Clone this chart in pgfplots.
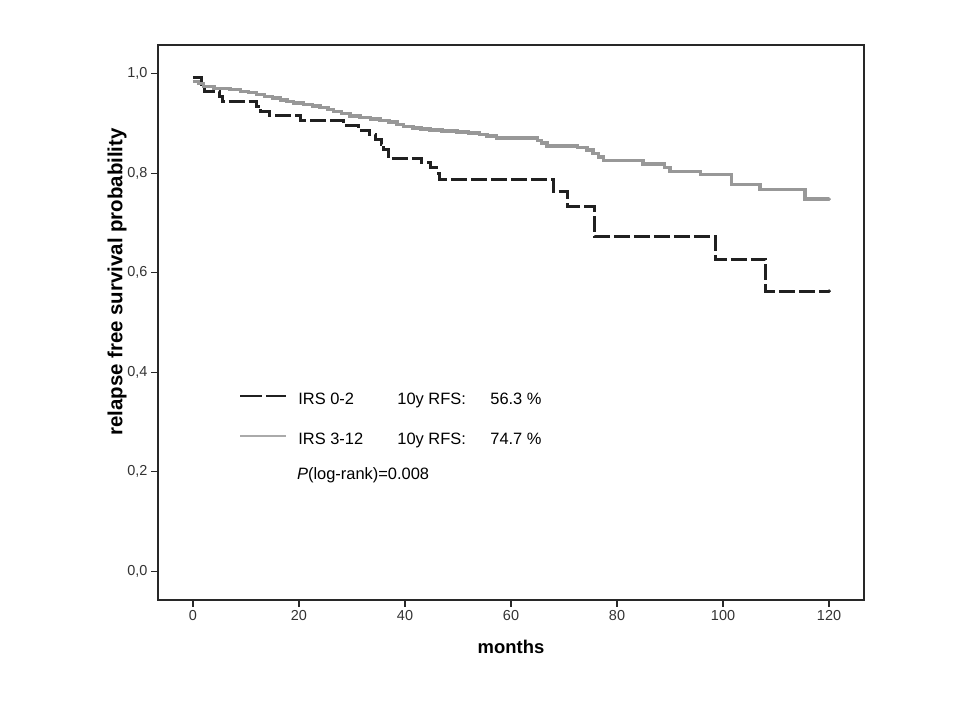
\documentclass[border=0pt]{standalone}
\usepackage{fontspec}
\setmainfont{Liberation Sans}
\usepackage{pgfplots}
\pgfplotsset{compat=1.18}
\definecolor{grayline}{RGB}{152,152,152}
\definecolor{graylegend}{RGB}{170,170,170}
\definecolor{blackline}{RGB}{32,32,32}
\definecolor{framecol}{RGB}{40,40,40}
\begin{document}
\begin{tikzpicture}[x=1bp,y=1bp]
\path[use as bounding box] (0,0) rectangle (960,720);
\begin{axis}[
  at={(158bp,120bp)}, anchor=south west,
  scale only axis, width=706bp, height=555bp,
  xmin=-6.6, xmax=126.6, ymin=-0.058, ymax=1.058,
  axis line style={line width=1.3bp, color=framecol},
  xtick={0,20,40,60,80,100,120},
  ytick={0,0.2,0.4,0.6,0.8,1.0},
  tick align=outside, tick pos=left,
  major tick length=7bp,
  tick style={line width=1.3bp, color=framecol},
  /pgf/number format/assume math mode=true,
  ticklabel style={font=\fontsize{14.5}{16}\selectfont, color=black!80},
  yticklabel style={/pgf/number format/.cd, fixed, fixed zerofill, precision=1, use comma},
  xlabel={months},
  ylabel={relapse free survival probability},
  xlabel style={at={(axis description cs:0.5,-0.0847)}, anchor=center, font=\bfseries\fontsize{18.5}{21}\selectfont},
  ylabel style={at={(axis description cs:-0.058,0.573)}, anchor=center, font=\bfseries\fontsize{20.5}{23}\selectfont},
  legend image code/.code={\draw[#1] (0bp,3bp) -- (46bp,3bp);},
  legend style={at={(axis cs:8.68,0.306)}, anchor=west, draw=none, fill=none,
    inner sep=0pt, row sep=28bp,
    font=\fontsize{16.5}{19}\selectfont,
    nodes={inner sep=0pt, text height=12bp, text depth=0bp},
    /tikz/every odd column/.append style={column sep=11bp}},
  legend cell align=left,
]
% IRS 0-2
\addplot[const plot, blackline, line width=3bp, dash pattern=on 16bp off 4bp, forget plot] coordinates {
(0,0.993) (1.6,0.978) (2.2,0.964) (5.0,0.954) (5.5,0.944)
(12.0,0.934) (12.8,0.925) (14.5,0.917) (20.3,0.907) (28.4,0.897)
(31.2,0.887) (33.3,0.877) (34.5,0.867) (35.5,0.857) (36.0,0.848)
(36.8,0.830) (43.2,0.821) (44.8,0.811) (46.0,0.800) (46.6,0.788)
(68.0,0.763) (70.6,0.734) (75.7,0.673) (98.5,0.627) (108.1,0.563)
(120.0,0.563)
};
% IRS 3-12
\addplot[const plot, grayline, line width=3.4bp, forget plot] coordinates {
(0,0.985) (1.0,0.980) (2.0,0.974) (4.0,0.971) (7.0,0.968) (9.0,0.965)
(10.5,0.962) (12.0,0.958) (13.5,0.955) (15.0,0.951) (16.5,0.947)
(17.7,0.944) (19.0,0.941) (20.8,0.938) (22.5,0.935) (24.0,0.932)
(25.5,0.928) (26.5,0.924) (28.0,0.920) (29.6,0.915) (31.5,0.912)
(33.5,0.909) (35.3,0.906) (37.0,0.903) (38.5,0.898) (39.7,0.894)
(41.5,0.891) (43.0,0.889) (44.7,0.887) (47.0,0.885) (49.8,0.883)
(52.0,0.881) (54.0,0.878) (55.5,0.875) (57.3,0.871) (65.0,0.866)
(65.8,0.861) (66.8,0.855) (72.5,0.852) (74.3,0.847) (75.5,0.840)
(76.5,0.833) (77.5,0.826) (84.9,0.819) (89.0,0.812) (90.0,0.804)
(95.7,0.797) (101.6,0.778) (107.0,0.767) (115.5,0.748) (120.0,0.748)
};
\addplot[only marks, mark=*, mark size=1.6bp, blackline, forget plot] coordinates {(120.0,0.563)};
\addplot[only marks, mark=*, mark size=1.6bp, grayline, forget plot] coordinates {(120.0,0.748)};
\addlegendimage{blackline, line width=2.2bp, dash pattern=on 22bp off 4bp}
\addlegendentry{\makebox[99bp][l]{IRS 0-2}\makebox[93bp][l]{10y RFS:}56.3 \%}
\addlegendimage{graylegend, line width=2.2bp}
\addlegendentry{\makebox[99bp][l]{IRS 3-12}\makebox[93bp][l]{10y RFS:}74.7 \%}
\node[anchor=base west, font=\fontsize{16.5}{19}\selectfont, inner sep=0pt] at (axis cs:19.6,0.185) {\textit{P}(log-rank)=0.008};
\end{axis}
\end{tikzpicture}
\end{document}
